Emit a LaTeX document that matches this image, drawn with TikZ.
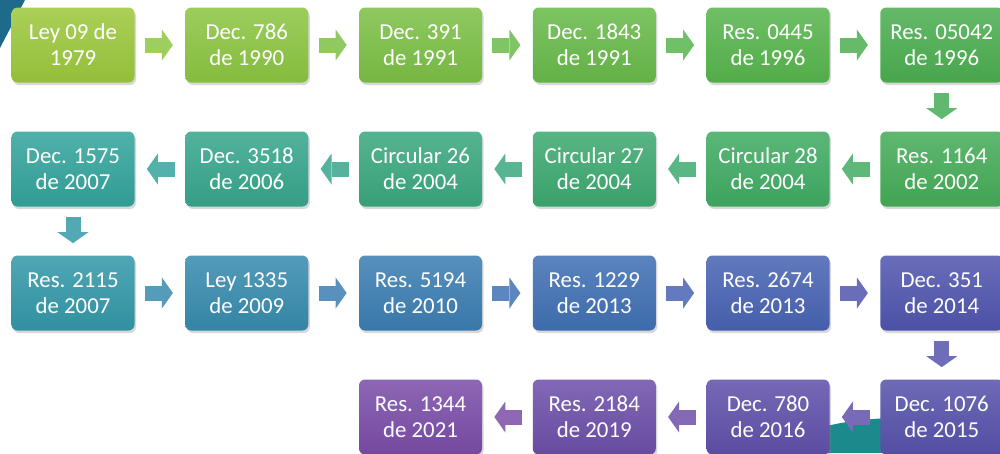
\documentclass[tikz,border=0pt]{standalone}
\usepackage{fontspec}
\setmainfont{Carlito}
\usetikzlibrary{arrows.meta,shadows}
\definecolor{cornerteal}{HTML}{1D6A8A}
\definecolor{waveteal}{HTML}{1C8A8C}

\tikzset{
  lawbox/.style={rounded corners=0.12cm, minimum width=2.46cm, minimum height=1.5cm,
    inner sep=0pt, align=center, text=white, font=\fontsize{13}{14.8}\selectfont,
    top color=boxc!86!white, bottom color=boxc!95!black,
    drop shadow={opacity=0.3, shadow xshift=0.03cm, shadow yshift=-0.05cm}},
  flowarrow/.style={line width=0.3cm, -{Triangle[length=0.22cm, width=0.62cm, line width=0pt]},
    shorten <=0.2cm, shorten >=0.24cm}
}

\begin{document}
\begin{tikzpicture}
    \useasboundingbox (0,0) rectangle (20,-9.06);
    \fill[white] (0,0) rectangle (20,-9.06);

    % Background pieces
    \fill[cornerteal] (0,0) -- (0.5,0) -- (0,-0.96) -- cycle;
    \fill[waveteal] (15.6,-9.06) .. controls (16.0,-8.6) and (16.6,-8.44) .. (17.6,-8.37) -- (20,-8.3) -- (20,-9.06) -- cycle;

    % Boxes, each joined to the one before
    \foreach \i/\c/\r/\hex/\txt in {
        1/1/1/9CC83C/{Ley 09 de\\1979},
        2/2/1/8CC542/{Dec. 786\\de 1990},
        3/3/1/7CC046/{Dec. 391\\de 1991},
        4/4/1/68BA4A/{Dec. 1843\\de 1991},
        5/5/1/57B54D/{Res. 0445\\de 1996},
        6/6/1/4BAE50/{Res. 05042\\de 1996},
        7/6/2/45AC58/{Res. 1164\\de 2002},
        8/5/2/40AB63/{Circular 28\\de 2004},
        9/4/2/3DA970/{Circular 27\\de 2004},
        10/3/2/3AA87E/{Circular 26\\de 2004},
        11/2/2/37A68C/{Dec. 3518\\de 2006},
        12/1/2/33A49C/{Dec. 1575\\de 2007},
        13/1/3/3398A8/{Res. 2115\\de 2007},
        14/2/3/378BAE/{Ley 1335\\de 2009},
        15/3/3/3B7EB2/{Res. 5194\\de 2010},
        16/4/3/4070B4/{Res. 1229\\de 2013},
        17/5/3/4863B3/{Res. 2674\\de 2013},
        18/6/3/5055AE/{Dec. 351\\de 2014},
        19/6/4/5652AB/{Dec. 1076\\de 2015},
        20/5/4/6050AA/{Dec. 780\\de 2016},
        21/4/4/6D4FA9/{Res. 2184\\de 2019},
        22/3/4/7A4DA8/{Res. 1344\\de 2021}} {
        \definecolor{boxc}{HTML}{\hex}
        \node[lawbox] (b\i) at ({1.46+(\c-1)*3.475},{-0.9-(\r-1)*2.48}) {\txt};
        \ifnum\i>1
            \pgfmathtruncatemacro\prev{\i-1}
            \draw[flowarrow, boxc!85!white] (b\prev) -- (b\i);
        \fi
    }
\end{tikzpicture}
\end{document}
